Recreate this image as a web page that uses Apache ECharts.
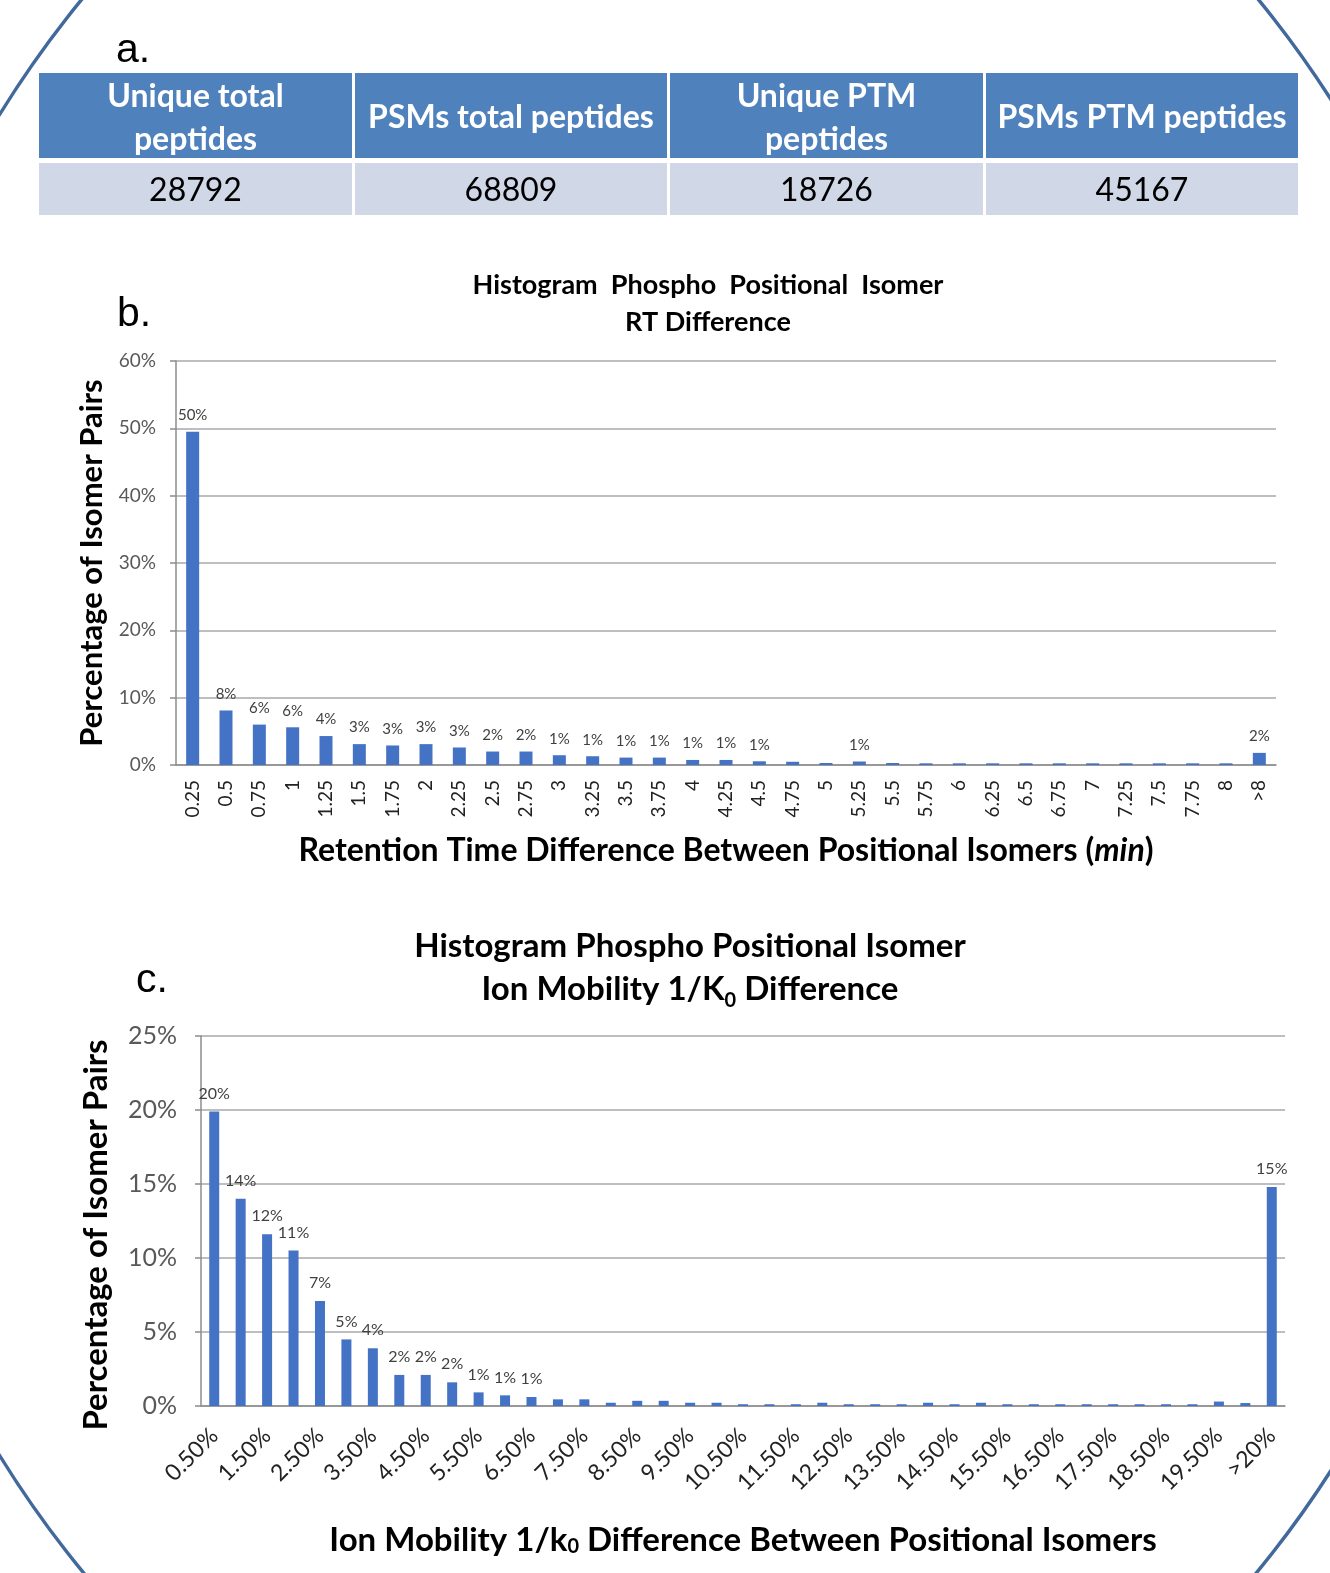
<!DOCTYPE html>
<html><head><meta charset="utf-8">
<script src="https://cdn.jsdelivr.net/npm/echarts@6/dist/echarts.min.js"></script>
<style>html,body{margin:0;padding:0;background:#fff}#c{width:1330px;height:1573px}</style>
</head><body><div id="c"></div>
<script>
// ---- data ----
const tableHeaders = ['Unique total\npeptides', 'PSMs total peptides', 'Unique PTM\npeptides', 'PSMs PTM peptides'];
const tableValues = ['28792', '68809', '18726', '45167'];

const rtCategories = ['0.25','0.5','0.75','1','1.25','1.5','1.75','2','2.25','2.5','2.75','3','3.25','3.5','3.75','4','4.25','4.5','4.75','5','5.25','5.5','5.75','6','6.25','6.5','6.75','7','7.25','7.5','7.75','8','>8'];
const rtValues = [49.5, 8.1, 6.0, 5.6, 4.3, 3.1, 2.9, 3.1, 2.6, 2.0, 2.0, 1.45, 1.3, 1.1, 1.1, 0.75, 0.75, 0.55, 0.48, 0.3, 0.52, 0.3, 0.25, 0.25, 0.25, 0.25, 0.25, 0.25, 0.25, 0.25, 0.25, 0.25, 1.8];

const imCategories = ['0.50%','1.00%','1.50%','2.00%','2.50%','3.00%','3.50%','4.00%','4.50%','5.00%','5.50%','6.00%','6.50%','7.00%','7.50%','8.00%','8.50%','9.00%','9.50%','10.00%','10.50%','11.00%','11.50%','12.00%','12.50%','13.00%','13.50%','14.00%','14.50%','15.00%','15.50%','16.00%','16.50%','17.00%','17.50%','18.00%','18.50%','19.00%','19.50%','20.00%','>20%'];
const imValues = [19.9, 14.0, 11.6, 10.5, 7.1, 4.5, 3.9, 2.1, 2.1, 1.6, 0.92, 0.72, 0.61, 0.45, 0.45, 0.22, 0.35, 0.35, 0.22, 0.22, 0.12, 0.12, 0.12, 0.22, 0.12, 0.12, 0.12, 0.22, 0.12, 0.22, 0.12, 0.12, 0.12, 0.12, 0.12, 0.12, 0.12, 0.12, 0.3, 0.2, 14.8];

// ---- styling ----
const F = 'Lato';
const BAR = '#4472C4';
const GRID = '#A8A8A8';
const AX = '#8C8C8C';

const tableCols = [[39, 352], [355, 667], [670, 983], [986, 1298]];
const graphics = [];
graphics.push({
  type: 'circle', x: 670, y: 785, scaleX: 852 / 1086, silent: true, z: 0,
  shape: {cx: 0, cy: 0, r: 1086},
  style: {fill: 'none', stroke: '#41699C', lineWidth: 4, strokeNoScale: true}
});
tableHeaders.forEach((h, i) => {
  const [x0, x1] = tableCols[i];
  graphics.push({type: 'rect', shape: {x: x0, y: 73, width: x1 - x0, height: 85}, style: {fill: '#4F81BD'}, silent: true});
  graphics.push({type: 'rect', shape: {x: x0, y: 163, width: x1 - x0, height: 52}, style: {fill: '#D0D8E8'}, silent: true});
  graphics.push({type: 'text', x: (x0 + x1) / 2, y: 118, silent: true,
    style: {text: h, font: 'bold 32px ' + F, fill: '#fff', align: 'center', verticalAlign: 'middle', lineHeight: 43}});
  graphics.push({type: 'text', x: (x0 + x1) / 2, y: 191, silent: true,
    style: {text: tableValues[i], font: '32px ' + F, fill: '#000', align: 'center', verticalAlign: 'middle'}});
});
[['a.', 116, 51], ['b.', 117, 315], ['c.', 136, 981]].forEach(([t, x, y]) => {
  graphics.push({type: 'text', x: x, y: y, silent: true,
    style: {text: t, font: '41px "Liberation Sans"', fill: '#000', align: 'left', verticalAlign: 'middle'}});
});

const lbl = p => p.value >= 0.5 ? Math.round(p.value) + '%' : '';

const option = {
  animation: false,
  backgroundColor: '#fff',
  title: [
    {text: 'Histogram  Phospho  Positional  Isomer\nRT Difference', left: 703, top: 262, textAlign: 'center',
     textStyle: {fontFamily: F, fontSize: 27, fontWeight: 'bold', color: '#000', lineHeight: 37}},
    {text: 'Histogram Phospho Positional Isomer\nIon Mobility 1/K{sub|0} Difference', left: 685, top: 920, textAlign: 'center',
     textStyle: {fontFamily: F, fontSize: 33, fontWeight: 'bold', color: '#000', lineHeight: 43,
       rich: {sub: {fontFamily: F, fontSize: 20, fontWeight: 'bold', color: '#000', verticalAlign: 'bottom', lineHeight: 32}}}}
  ],
  grid: [
    {left: 176, top: 361, width: 1100, height: 404},
    {left: 201, top: 1036, width: 1084, height: 370}
  ],
  xAxis: [
    {type: 'category', gridIndex: 0, data: rtCategories,
     axisLine: {lineStyle: {color: AX, width: 1.5}},
     axisTick: {length: 8, lineStyle: {color: AX, width: 1.5}},
     axisLabel: {interval: 0, rotate: 90, fontFamily: F, fontSize: 19, color: '#222', margin: 15},
     name: 'Retention Time Difference Between Positional Isomers ({it|min})', nameLocation: 'middle', nameGap: 70,
     nameTextStyle: {fontFamily: F, fontSize: 32, fontWeight: 'bold', color: '#000',
       rich: {it: {fontFamily: F, fontSize: 32, fontWeight: 'bold', fontStyle: 'italic', color: '#000'}}}},
    {type: 'category', gridIndex: 1, data: imCategories,
     axisLine: {lineStyle: {color: AX, width: 1.5}},
     axisTick: {length: 8, interval: 0, lineStyle: {color: AX, width: 1.5}},
     axisLabel: {interval: 1, rotate: 45, fontFamily: F, fontSize: 23, color: '#222', margin: 26},
     name: 'Ion Mobility 1/k{sub|0} Difference Between Positional Isomers', nameLocation: 'middle', nameGap: 118,
     nameTextStyle: {fontFamily: F, fontSize: 33, fontWeight: 'bold', color: '#000',
       rich: {sub: {fontFamily: F, fontSize: 20, fontWeight: 'bold', color: '#000', verticalAlign: 'bottom', lineHeight: 32}}}}
  ],
  yAxis: [
    {type: 'value', gridIndex: 0, min: 0, max: 60, interval: 10,
     axisLine: {show: true, lineStyle: {color: AX, width: 1.5}},
     axisTick: {show: true, length: 6, lineStyle: {color: AX, width: 1.5}},
     splitLine: {lineStyle: {color: GRID, width: 1.5}},
     axisLabel: {formatter: '{value}%', fontFamily: F, fontSize: 19, color: '#595959', margin: 20},
     name: 'Percentage of Isomer Pairs', nameLocation: 'middle', nameGap: 68, nameRotate: 90,
     nameTextStyle: {fontFamily: F, fontSize: 31, fontWeight: 'bold', color: '#000'}},
    {type: 'value', gridIndex: 1, min: 0, max: 25, interval: 5,
     axisLine: {show: true, lineStyle: {color: AX, width: 1.5}},
     axisTick: {show: true, length: 6, lineStyle: {color: AX, width: 1.5}},
     splitLine: {lineStyle: {color: GRID, width: 1.5}},
     axisLabel: {formatter: '{value}%', fontFamily: F, fontSize: 25, color: '#595959', margin: 24},
     name: 'Percentage of Isomer Pairs', nameLocation: 'middle', nameGap: 88, nameRotate: 90,
     nameTextStyle: {fontFamily: F, fontSize: 33, fontWeight: 'bold', color: '#000', padding: [0, 28, 0, 0]}}
  ],
  series: [
    {type: 'bar', xAxisIndex: 0, yAxisIndex: 0, data: rtValues, barWidth: 13,
     itemStyle: {color: BAR},
     label: {show: true, position: 'top', distance: 9, formatter: lbl, fontFamily: F, fontSize: 15, color: '#404040'}},
    {type: 'bar', xAxisIndex: 1, yAxisIndex: 1, data: imValues, barWidth: 10,
     itemStyle: {color: BAR},
     label: {show: true, position: 'top', distance: 10, formatter: lbl, fontFamily: F, fontSize: 16, color: '#404040'}}
  ],
  graphic: graphics
};
const chart = echarts.init(document.getElementById('c'), null, {renderer: 'canvas'});
chart.setOption(option);
</script>
</body></html>
